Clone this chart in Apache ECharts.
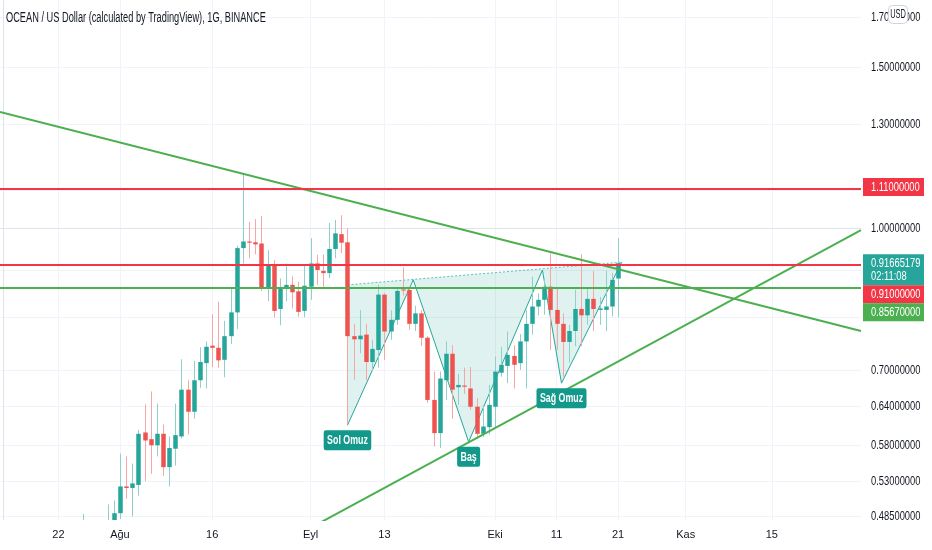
<!DOCTYPE html>
<html><head><meta charset="utf-8">
<script src="https://cdn.jsdelivr.net/npm/echarts@6/dist/echarts.min.js"></script>
<style>html,body{margin:0;padding:0;background:#fff}#c{width:932px;height:550px}</style>
</head><body><div id="c"></div>
<script>
const FONT = "'Liberation Sans', Arial, sans-serif";
const SQ = 0.72; // horizontal squeeze of the small texts in the reference
const L = Math.log;

// ---- axis categories (one per day) ----
const firstDay = Date.UTC(2021, 6, 13);
const dates = [];
for (let k = 0; k < 140; k++) dates.push(new Date(firstDay + k * 86400000).toISOString().slice(0, 10));

const xLabelDates = ['2021-07-22','2021-08-01','2021-08-16','2021-09-01','2021-09-13','2021-10-01','2021-10-11','2021-10-21','2021-11-01','2021-11-15'];
const xLabelText  = ['22','Ağu','16','Eyl','13','Eki','11','21','Kas','15'];

const yTickValues = [0.485, 0.53, 0.58, 0.64, 0.70, 0.80, 0.90, 1.00, 1.10, 1.30, 1.50, 1.70];
const yTickLabels = ['0.48500000','0.53000000','0.58000000','0.64000000','0.70000000','0.80000000','0.90000000','1.00000000','1.10000000','1.30000000','1.50000000','1.70000000'];

// ---- daily candles from 2021-07-26 to 2021-10-21 ----
const candleStart = '2021-07-26';
const opens  = [.438,.455,.462,.470,.465,.470,.489,.523,.521,.525,.599,.589,.580,.597,.549,.575,.593,.667,.631,.683,.713,.745,.741,.719,.763,.810,.952,.968,.966,.963,.862,.913,.817,.862,.868,.854,.813,.864,.916,.899,.894,.950,.986,.966,.763,.757,.766,.715,.737,.847,.772,.795,.858,.857,.787,.808,.760,.650,.598,.683,.730,.671,.674,.669,.639,.597,.607,.639,.696,.708,.726,.713,.753,.787,.822,.836,.864,.815,.787,.752,.773,.817,.804,.838,.815,.815,.822,.882];
const highs  = [.488,.470,.478,.478,.500,.505,.568,.564,.554,.603,.643,.664,.644,.611,.593,.644,.720,.683,.717,.742,.753,.806,.832,.793,.862,.958,1.150,1.017,1.024,1.032,.947,.924,.882,.916,.887,.875,.914,.976,.936,.937,1.014,1.022,1.034,1.000,.787,.815,.787,.756,.868,.850,.814,.860,.907,.860,.824,.815,.763,.698,.698,.753,.746,.694,.705,.706,.653,.642,.675,.725,.743,.772,.746,.767,.815,.886,.850,.882,.939,.860,.808,.785,.857,.937,.860,.899,.842,.899,.894,.976];
const lows   = [.430,.435,.450,.455,.455,.465,.482,.507,.485,.511,.530,.540,.564,.537,.523,.551,.590,.596,.620,.670,.669,.706,.705,.688,.748,.777,.916,.928,.937,.855,.833,.800,.784,.833,.818,.801,.800,.836,.868,.860,.883,.928,.940,.612,.684,.731,.683,.698,.705,.719,.756,.785,.845,.775,.773,.744,.645,.578,.576,.650,.620,.642,.660,.634,.590,.592,.596,.607,.689,.678,.669,.701,.669,.766,.804,.805,.737,.737,.689,.714,.744,.744,.785,.773,.785,.773,.802,.800];
const closes = [.455,.462,.470,.465,.472,.489,.523,.521,.527,.597,.587,.580,.597,.549,.576,.595,.667,.631,.683,.715,.743,.741,.718,.763,.810,.952,.968,.965,.961,.860,.912,.813,.863,.868,.852,.811,.866,.916,.901,.894,.950,.988,.965,.763,.757,.764,.715,.739,.847,.772,.795,.855,.856,.787,.808,.760,.650,.598,.686,.730,.667,.675,.672,.639,.597,.608,.642,.698,.710,.728,.710,.753,.787,.822,.836,.864,.815,.787,.752,.773,.817,.804,.838,.817,.818,.822,.879,.91665179];

// ---- drawn lines / levels ----
const levelRed1 = 1.11, levelRed2 = 0.91, levelGreen = 0.8567, lastPrice = 0.91665179;
const countdown = '02:11:08';
const trendDown = [[-0.5, 1.340], [139.5, 0.773]];
const trendUp   = [[45, 0.452], [139.5, 0.996]];
// head & shoulders: [dayIndex, price]
const patternPts = [[56.0, 0.868],[56.0, 0.610],[66.7, 0.879],[75.7, 0.585],[87.7, 0.901],[90.8, 0.678],[100.6, 0.919]];
const patternLabels = [['Sol Omuz', 56.0, 0.610], ['Baş', 75.7, 0.585], ['Sağ Omuz', 90.8, 0.678]];

const up = '#26a69a', down = '#ef5350', upWick = '#8fd1ca', downWick = '#f5a6a5';
const red = '#f23645', green = '#4caf50', labelTeal = '#12998b';

const i0 = dates.indexOf(candleStart);
const candleData = opens.map((o, k) => [i0 + k, L(o), L(closes[k]), L(lows[k]), L(highs[k])]);
const xLabelIdx = xLabelDates.map(d => dates.indexOf(d));

const chart = echarts.init(document.getElementById('c'), null, {renderer: 'canvas'});
const option = {
  animation: false,
  backgroundColor: '#fff',
  grid: {left: 0, right: 71, top: 0, bottom: 30},
  xAxis: {
    type: 'value', min: -0.5, max: 139.5,
    axisLine: {show: true, lineStyle: {color: '#e0e3eb'}},
    axisTick: {show: false, customValues: xLabelIdx},
    splitLine: {show: true, lineStyle: {color: '#f0f3fa'}},
    axisLabel: {customValues: xLabelIdx, color: '#131722', fontSize: 11, fontFamily: FONT, margin: 9,
      formatter: v => xLabelText[xLabelIdx.indexOf(Math.round(v))] || ''}
  },
  yAxis: {
    type: 'value', position: 'right', min: L(0.4807), max: L(1.776), scale: true,
    axisLine: {show: true, lineStyle: {color: '#e0e3eb'}},
    axisTick: {show: false, customValues: yTickValues.map(L)},
    splitLine: {show: true, lineStyle: {color: '#f0f3fa'}},
    axisLabel: {show: false, customValues: yTickValues.map(L)}
  },
  series: [
    {
      type: 'custom', z: 1, clip: true, silent: true,
      data: [[patternPts[0][0], L(patternPts[0][1])]], encode: {x: 0, y: 1},
      renderItem: (params, api) => {
        const pts = patternPts.map(p => api.coord([p[0], L(p[1])]));
        return {type: 'group', children: [
          {type: 'polygon', shape: {points: pts}, style: {fill: 'rgba(38,166,154,0.15)'}},
          {type: 'polyline', shape: {points: pts.slice(1)}, style: {stroke: up, lineWidth: 1, fill: null}},
          {type: 'line', shape: {x1: pts[0][0], y1: pts[0][1], x2: pts[6][0], y2: pts[6][1]},
            style: {stroke: up, lineWidth: 1, lineDash: [2, 2], opacity: 0.7}}
        ]};
      }
    },
    {
      type: 'custom', z: 3, clip: true, silent: true,
      data: candleData, encode: {x: 0, y: [1, 2, 3, 4]},
      renderItem: (params, api) => {
        const x = api.value(0), o = api.value(1), c = api.value(2), lo = api.value(3), hi = api.value(4);
        const pO = api.coord([x, o]), pC = api.coord([x, c]), pL = api.coord([x, lo]), pH = api.coord([x, hi]);
        const isUp = c >= o;
        const cx = Math.round(pO[0]) + 0.5;
        const top = Math.min(pO[1], pC[1]), bot = Math.max(pO[1], pC[1]);
        return {type: 'group', children: [
          {type: 'line', shape: {x1: cx, y1: pH[1], x2: cx, y2: pL[1]}, style: {stroke: isUp ? upWick : downWick, lineWidth: 1}},
          {type: 'rect', shape: {x: cx - 2.25, y: top, width: 4.5, height: Math.max(1, bot - top)}, style: {fill: isUp ? up : down}}
        ]};
      },
      markLine: {
        silent: true, symbol: ['none', 'none'], label: {show: false}, animation: false,
        data: [
          {yAxis: L(levelRed1), lineStyle: {color: red, width: 2, type: 'solid'}},
          {yAxis: L(lastPrice), lineStyle: {color: up, width: 1, type: 'dotted'}},
          {yAxis: L(levelRed2), lineStyle: {color: red, width: 2, type: 'solid'}},
          {yAxis: L(levelGreen), lineStyle: {color: green, width: 2, type: 'solid'}}
        ]
      }
    },
    {type: 'line', data: trendDown.map(p => [p[0], L(p[1])]), showSymbol: false, clip: true, z: 4, silent: true,
      lineStyle: {color: green, width: 2}},
    {type: 'line', data: trendUp.map(p => [p[0], L(p[1])]), showSymbol: false, clip: true, z: 4, silent: true,
      lineStyle: {color: green, width: 2}},
    {
      type: 'custom', z: 6, silent: true, clip: false,
      data: patternLabels.map(p => [p[1], L(p[2])]), encode: {x: 0, y: 1},
      renderItem: (params, api) => {
        const p = api.coord([api.value(0), api.value(1)]);
        return {type: 'text', x: p[0], y: p[1] + 5, scaleX: 0.68,
          style: {text: patternLabels[params.dataIndex][0], fill: '#fff', fontSize: 13, fontWeight: 'bold', fontFamily: FONT,
            align: 'center', verticalAlign: 'top', backgroundColor: labelTeal, padding: [4, 5, 3, 5], borderRadius: 3}};
      }
    }
  ]
};
chart.setOption(option);

const graphics = [];
const gx = chart.convertToPixel({xAxisIndex: 0}, 139.5);
// y-axis tick labels
yTickValues.forEach((t, k) => {
  const y = chart.convertToPixel({yAxisIndex: 0}, L(t));
  graphics.push({type: 'text', z: 50, x: gx + 10, y: y, scaleX: SQ,
    style: {text: yTickLabels[k], fill: '#131722', fontSize: 13, fontFamily: FONT, verticalAlign: 'middle'}});
});
// price tags on the right axis, stacked so they do not overlap
const tags = [
  {v: levelRed1, lines: [levelRed1.toFixed(8)], color: red},
  {v: lastPrice, lines: [lastPrice.toFixed(8), countdown], color: up},
  {v: levelRed2, lines: [levelRed2.toFixed(8)], color: red},
  {v: levelGreen, lines: [levelGreen.toFixed(8)], color: green}
];
let prevBottom = -1e9;
tags.forEach(t => {
  const y = chart.convertToPixel({yAxisIndex: 0}, L(t.v));
  const h = t.lines.length * 13 + 5;
  const top = Math.max(y - 9, prevBottom);
  prevBottom = top + h;
  graphics.push({type: 'rect', z: 100, shape: {x: gx + 2, y: top, width: 61, height: h}, style: {fill: t.color}});
  graphics.push({type: 'text', z: 101, x: gx + 10, y: top + 3, scaleX: SQ,
    style: {text: t.lines.join('\n'), fill: '#fff', fontSize: 13, lineHeight: 13, fontFamily: FONT}});
});
graphics.push({type: 'rect', z: 102, shape: {x: 888.5, y: 5.5, width: 19, height: 18, r: 4}, style: {fill: '#fff', stroke: '#d1d4dc', lineWidth: 1}});
graphics.push({type: 'text', z: 103, x: 898, y: 15, scaleX: 0.62, style: {text: 'USD', fill: '#131722', fontSize: 12, fontFamily: FONT, align: 'center', verticalAlign: 'middle'}});
graphics.push({type: 'text', z: 103, x: 6, y: 11, scaleX: 0.66, style: {text: 'OCEAN / US Dollar (calculated by TradingView), 1G, BINANCE', fill: '#131722', fontSize: 14, fontFamily: FONT}});
chart.setOption({graphic: graphics});
</script>
</body></html>
